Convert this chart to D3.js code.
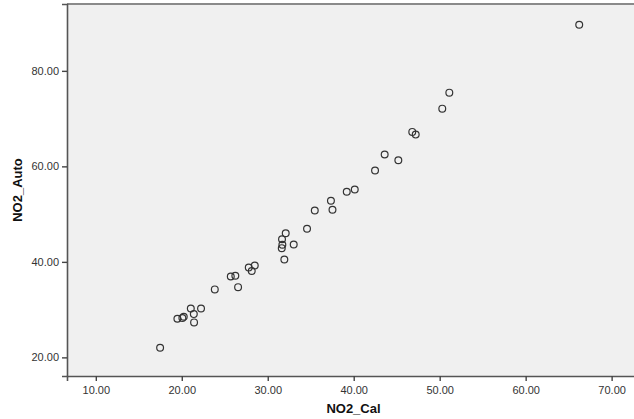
<!DOCTYPE html>
<html>
<head>
<meta charset="utf-8">
<script src="https://cdn.jsdelivr.net/npm/d3@7"></script>
<style>
  body { margin: 0; background: #fff; }
  text { font-family: "Liberation Sans", Arial, sans-serif; }
</style>
</head>
<body>
<script>
// data
const no2Cal = [17.48, 19.49, 20.07, 20.23, 21.05, 21.40, 21.43, 22.24, 23.84, 26.55,
    25.70, 26.23, 27.79, 28.14, 28.49, 31.93, 31.63, 31.70, 31.66, 32.09,
    33.02, 34.57, 35.47, 37.53, 37.35, 39.19, 40.12, 42.48, 43.60, 45.19,
    46.81, 47.21, 50.30, 51.12, 66.23];
const no2Auto = [22.03, 28.10, 28.22, 28.51, 30.25, 29.06, 27.32, 30.25, 34.23, 34.71,
    36.95, 37.09, 38.83, 38.10, 39.25, 40.50, 42.87, 43.58, 44.75, 46.00,
    43.64, 46.92, 50.75, 50.90, 52.80, 54.67, 55.15, 59.12, 62.47, 61.28,
    67.22, 66.65, 72.09, 75.44, 89.67];
const xTicks = [10, 20, 30, 40, 50, 60, 70];
const yTicks = [20, 40, 60, 80];

const width = 634;
const height = 419;
const plot = { left: 67, right: 640, top: 4, bottom: 376 };

const x = d3.scaleLinear().domain([6.65, 73.3]).range([plot.left, plot.right]);
const y = d3.scaleLinear().domain([16.1, 94.0]).range([plot.bottom, plot.top]);

let svg = d3.select("body")
    .append("svg")
    .attr("width", width)
    .attr("height", height);

// plot background
svg.append("rect")
    .attr("x", plot.left)
    .attr("y", plot.top)
    .attr("width", plot.right - plot.left)
    .attr("height", plot.bottom - plot.top)
    .attr("fill", "#f0f0f0");

// top border
svg.append("line")
    .attr("x1", plot.left).attr("x2", plot.right)
    .attr("y1", plot.top).attr("y2", plot.top)
    .attr("stroke", "#8a8a8a")
    .attr("stroke-width", 2);

// x axis
let gx = svg.append("g")
    .attr("transform", "translate(0," + plot.bottom + ")")
    .call(d3.axisBottom(x).tickValues(xTicks).tickFormat(d3.format(".2f")).tickSizeOuter(0).tickSize(5));

// y axis
let gy = svg.append("g")
    .attr("transform", "translate(" + plot.left + ",0)")
    .call(d3.axisLeft(y).tickValues(yTicks).tickFormat(d3.format(".2f")).tickSizeOuter(0).tickSize(5));

[gx, gy].forEach(g => {
    g.select(".domain").attr("stroke", "#555").attr("stroke-width", 1.6);
    g.selectAll(".tick line").attr("stroke", "#444").attr("stroke-width", 1.4);
    g.selectAll(".tick text")
        .style("font-family", "'Liberation Sans', Arial, sans-serif")
        .style("font-size", "11px")
        .attr("fill", "#333");
});
gx.selectAll(".tick text").attr("dy", "0.95em");
gy.selectAll(".tick text").attr("x", -8);

// points
svg.append("g")
    .selectAll("circle")
    .data(no2Cal.map((d, i) => [d, no2Auto[i]]))
    .enter()
    .append("circle")
    .attr("cx", d => x(d[0]))
    .attr("cy", d => y(d[1]))
    .attr("r", 3.4)
    .attr("fill", "none")
    .attr("stroke", "#333")
    .attr("stroke-width", 1.2);

// axis titles
svg.append("text")
    .attr("x", (plot.left + plot.right) / 2)
    .attr("y", 413)
    .attr("text-anchor", "middle")
    .style("font-size", "13px")
    .style("font-weight", "bold")
    .attr("fill", "#111")
    .text("NO2_Cal");

svg.append("text")
    .attr("transform", "translate(22," + ((plot.top + plot.bottom) / 2) + ") rotate(-90)")
    .attr("text-anchor", "middle")
    .style("font-size", "13px")
    .style("font-weight", "bold")
    .attr("fill", "#111")
    .text("NO2_Auto");
</script>
</body>
</html>
